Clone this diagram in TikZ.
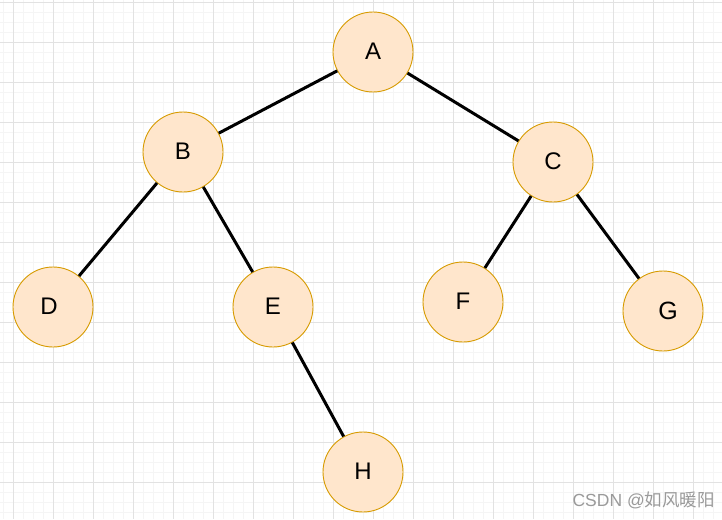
\documentclass[tikz,border=0pt]{standalone}
\usepackage{fontspec}
\setmainfont{Liberation Sans}
\newfontfamily\cjkfont{Noto Sans CJK SC}
\definecolor{nodefill}{HTML}{FFE6CC}
\definecolor{nodedraw}{HTML}{D79B00}
\definecolor{gridmajor}{HTML}{E2E2E2}
\definecolor{gridminor}{HTML}{F5F5F5}
\definecolor{wm}{HTML}{9A9A9A}
\begin{document}
\begin{tikzpicture}[x=1pt,y=-1pt,
  vtx/.style={circle,draw=nodedraw,fill=nodefill,line width=0.9pt,minimum size=80pt,inner sep=0pt},
  lbl/.style={font=\fontsize{24}{26}\selectfont,inner sep=0pt},
  edge/.style={line width=3pt,black}]
\fill[white] (0,0) rectangle (722,519);
\useasboundingbox (0,0) rectangle (722,519);
\foreach \x in {3,13,...,722} \draw[gridminor,line width=0.7pt] (\x,0) -- (\x,519);
\foreach \y in {2,12,...,519} \draw[gridminor,line width=0.7pt] (0,\y) -- (722,\y);
\foreach \x in {13,53,...,722} \draw[gridmajor,line width=0.9pt] (\x,0) -- (\x,519);
\foreach \y in {2,42,...,519} \draw[gridmajor,line width=0.9pt] (0,\y) -- (722,\y);
\node[vtx] (A) at (373,52) {};
\node[vtx] (B) at (183,152) {};
\node[vtx] (C) at (553,162) {};
\node[vtx] (D) at (53,307) {};
\node[vtx] (E) at (273,307) {};
\node[vtx] (F) at (463,302) {};
\node[vtx] (G) at (663,311) {};
\node[vtx] (H) at (363,472) {};
\node[lbl] (lA) at ([yshift=1pt]A.center) {A};
\node[lbl] (lB) at ([yshift=1pt]B.center) {B};
\node[lbl] (lC) at ([yshift=1pt]C.center) {C};
\node[lbl] (lD) at ([xshift=-4pt,yshift=1pt]D.center) {D};
\node[lbl] (lE) at ([yshift=1pt]E.center) {E};
\node[lbl] (lF) at ([yshift=1pt]F.center) {F};
\node[lbl,font=\fontsize{25}{27}\selectfont] (lG) at ([xshift=5pt,yshift=0pt]G.center) {G};
\node[lbl] (lH) at ([yshift=1pt]H.center) {H};
\draw[edge] (A) -- (B);
\draw[edge] (A) -- (C);
\draw[edge] (B) -- (D);
\draw[edge] (B) -- (E);
\draw[edge] (C) -- (F);
\draw[edge] (C) -- (G);
\draw[edge] (E) -- (H);
\node[wm,font=\fontsize{17.5}{19}\selectfont,anchor=east,inner sep=0pt] (wmk) at (715,500) {CSDN @{\cjkfont 如风暖阳}};
\end{tikzpicture}
\end{document}
